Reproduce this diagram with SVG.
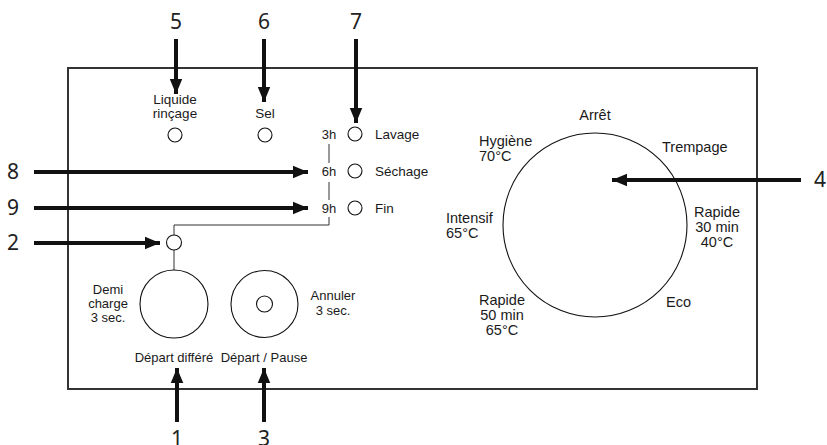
<svg xmlns="http://www.w3.org/2000/svg" width="827" height="445" viewBox="0 0 827 445">
<defs>
<marker id="ah" viewBox="0 0 12 10" refX="12" refY="5" markerWidth="3.8" markerHeight="3.4" markerUnits="strokeWidth" orient="auto">
<path d="M0,0 L12,5 L0,10 z" fill="#111"/>
</marker>
<style>
.lbl{font-family:"Liberation Sans",Arial,sans-serif;font-size:13.5px;fill:#1a1a1a}
.dl{font-family:"Liberation Sans",Arial,sans-serif;font-size:14.5px;fill:#1a1a1a}
.sm{font-family:"Liberation Sans",Arial,sans-serif;font-size:13px;fill:#1a1a1a}
.num{font-family:"Noto Sans","Open Sans",sans-serif;font-size:21px;fill:#222}
.c{fill:#fff;stroke:#111;stroke-width:1.1}
.ring{fill:none;stroke:#111;stroke-width:1.1}
.thin{fill:none;stroke:#333;stroke-width:1}
.arr{stroke:#111;stroke-width:4;fill:none;marker-end:url(#ah)}
</style>
</defs>
<rect width="827" height="445" fill="#fff"/>
<g id="panel">
<rect x="68" y="68" width="689" height="321" fill="none" stroke="#333" stroke-width="2"/>
</g>
<g id="connectors">
<path class="thin" d="M329,144 V163 M329,182 V200 M329,217 V225 H174 V235 M174,250 V270"/>
<line class="arr" x1="176" y1="39" x2="176" y2="94"/>
<line class="arr" x1="264" y1="39" x2="264" y2="102"/>
<line class="arr" x1="356" y1="39" x2="356" y2="123"/>
<line class="arr" x1="34" y1="172" x2="308" y2="172"/>
<line class="arr" x1="34" y1="208" x2="308" y2="208"/>
<line class="arr" x1="34" y1="243" x2="160" y2="243"/>
<line class="arr" x1="177" y1="422" x2="177" y2="368"/>
<line class="arr" x1="264" y1="422" x2="264" y2="368"/>
<line class="arr" x1="801" y1="180" x2="612" y2="180"/>
</g>
<g id="n5"><text class="num" x="176" y="29" text-anchor="middle">5</text></g>
<g id="n6"><text class="num" x="264" y="29" text-anchor="middle">6</text></g>
<g id="n7"><text class="num" x="356" y="29" text-anchor="middle">7</text></g>
<g id="n8"><text class="num" x="13" y="179" text-anchor="middle">8</text></g>
<g id="n9"><text class="num" x="13" y="215" text-anchor="middle">9</text></g>
<g id="n2"><text class="num" x="13" y="250" text-anchor="middle">2</text></g>
<g id="n1"><text class="num" x="177" y="446" text-anchor="middle">1</text></g>
<g id="n3"><text class="num" x="264" y="446" text-anchor="middle">3</text></g>
<g id="n4"><text class="num" x="820" y="187" text-anchor="middle">4</text></g>
<g id="rinse">
<text class="lbl" x="175" y="104" text-anchor="middle">Liquide</text>
<text class="lbl" x="175" y="118" text-anchor="middle">rinçage</text>
<circle class="c" cx="175" cy="135" r="7"/>
</g>
<g id="salt">
<text class="lbl" x="265" y="118" text-anchor="middle">Sel</text>
<circle class="c" cx="265" cy="135" r="7"/>
</g>
<g id="lavage">
<text class="sm" x="329" y="139" text-anchor="middle">3h</text>
<circle class="c" cx="355" cy="134" r="7"/>
<text class="lbl" x="375" y="139">Lavage</text>
</g>
<g id="sechage">
<text class="sm" x="329" y="176" text-anchor="middle">6h</text>
<circle class="c" cx="355" cy="171" r="7"/>
<text class="lbl" x="375" y="176">Séchage</text>
</g>
<g id="fin">
<text class="sm" x="329" y="213" text-anchor="middle">9h</text>
<circle class="c" cx="355" cy="208" r="7"/>
<text class="lbl" x="375" y="213">Fin</text>
</g>
<g id="delay-led">
<circle class="c" cx="174" cy="242.5" r="7.5"/>
</g>
<g id="delay-btn">
<circle class="c" cx="174" cy="304" r="34"/>
<text class="sm" x="108" y="294" text-anchor="middle">Demi</text>
<text class="sm" x="108" y="308" text-anchor="middle">charge</text>
<text class="sm" x="108" y="322" text-anchor="middle">3 sec.</text>
<text class="sm" x="174" y="362" text-anchor="middle">Départ différé</text>
</g>
<g id="start-btn">
<circle class="c" cx="264.5" cy="304" r="33.5"/>
<circle class="c" cx="264.5" cy="304" r="8"/>
<text class="sm" x="333" y="300" text-anchor="middle">Annuler</text>
<text class="sm" x="333" y="315" text-anchor="middle">3 sec.</text>
<text class="sm" x="264" y="362" text-anchor="middle">Départ / Pause</text>
</g>
<g id="dial">
<circle class="ring" cx="595" cy="225" r="92"/>
<text class="dl" x="595" y="120" text-anchor="middle">Arrêt</text>
<text class="dl" x="662" y="152">Trempage</text>
<text class="dl" x="479" y="146">Hygiène</text>
<text class="dl" x="479" y="161">70°C</text>
<text class="dl" x="446" y="223">Intensif</text>
<text class="dl" x="446" y="238">65°C</text>
<text class="dl" x="717" y="217" text-anchor="middle">Rapide</text>
<text class="dl" x="717" y="232" text-anchor="middle">30 min</text>
<text class="dl" x="717" y="247" text-anchor="middle">40°C</text>
<text class="dl" x="502" y="305" text-anchor="middle">Rapide</text>
<text class="dl" x="502" y="320" text-anchor="middle">50 min</text>
<text class="dl" x="502" y="335" text-anchor="middle">65°C</text>
<text class="dl" x="666" y="307">Eco</text>
</g>
</svg>
